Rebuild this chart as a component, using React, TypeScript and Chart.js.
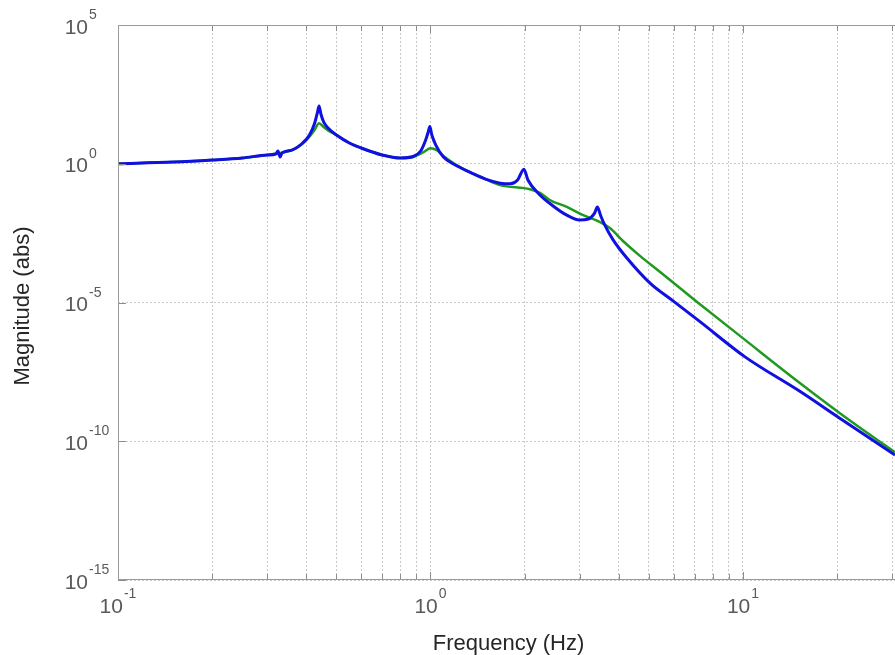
import React, { useEffect, useRef } from "react";
import { Chart, registerables } from "chart.js";

Chart.register(...registerables);

// ---- Data ----
const frequencyBlue = [
  0.1, 0.15, 0.2, 0.25, 0.3, 0.32, 0.325, 0.33, 0.335, 0.36, 0.39, 0.41, 0.425, 0.435, 0.44, 0.446, 0.455, 0.47,
  0.5, 0.55, 0.6, 0.7, 0.8, 0.88, 0.93, 0.965, 0.985, 0.995, 1.01, 1.04, 1.1, 1.2, 1.35, 1.5, 1.67, 1.8, 1.9,
  1.99, 2.05, 2.24, 2.45, 2.73, 3.0, 3.2, 3.35, 3.42, 3.5, 3.6, 3.84, 4.25, 5.04, 6.0, 7.3, 10.15, 15.2, 20.4, 30.65,
];
const magnitudeBlue = [
  1.0, 1.15, 1.36, 1.61, 2.07, 2.24, 2.88, 1.75, 2.45, 3.1, 5.6, 10.9, 27, 73, 120, 62, 32, 19.4,
  10.9, 5.6, 3.7, 2.07, 1.61, 1.82, 2.88, 7.2, 15, 22, 10.9, 4.7, 1.75, 0.9, 0.47, 0.28, 0.2, 0.19, 0.26,
  0.64, 0.26, 0.075, 0.032, 0.014, 0.0094, 0.0102, 0.0167, 0.0275, 0.014, 0.0067, 0.0018, 4e-4, 5e-5, 1.1e-5, 2e-6,
  1.1e-7, 6.3e-9, 6.8e-10, 3.2e-11,
];
const frequencyGreen = [
  0.1, 0.15, 0.2, 0.25, 0.3, 0.36, 0.39, 0.41, 0.425, 0.44, 0.455, 0.47, 0.5, 0.55, 0.6, 0.7, 0.8, 0.88, 0.95,
  1.0, 1.05, 1.1, 1.2, 1.35, 1.5, 1.67, 2.08, 2.24, 2.41, 2.73, 3.08, 3.49, 3.75, 4.13, 4.68, 5.43, 7.13, 10.15,
  15.2, 22.5, 30.65,
];
const magnitudeGreen = [
  1.0, 1.15, 1.36, 1.61, 2.07, 3.1, 5.4, 9.5, 16, 29, 21, 16, 10.9, 5.6, 3.7, 2.07, 1.61, 1.75, 2.6,
  3.6, 3.0, 1.9, 0.95, 0.47, 0.28, 0.17, 0.12, 0.089, 0.049, 0.028, 0.014, 0.0079, 0.0048, 0.00165, 4.8e-4, 1.26e-4,
  1.05e-5, 4.5e-7, 1.26e-8, 4.6e-10, 4e-11,
];

const xMin = 0.1;
const xMax = 30.65;
const yMin = 1e-15;
const yMax = 1e5;

const xGridValues = [
  0.1, 0.2, 0.3, 0.4, 0.5, 0.6, 0.7, 0.8, 0.9, 1, 2, 3, 4, 5, 6, 7, 8, 9, 10, 20, 30,
];
const xLabelValues = [0.1, 1, 10];
const xLabelExponents = ["-1", "0", "1"];
const yLabelValues = [1e-15, 1e-10, 1e-5, 1, 1e5];
const yLabelExponents = ["-15", "-10", "-5", "0", "5"];
const xTitle = "Frequency (Hz)";
const yTitle = "Magnitude (abs)";

const FONT = "'Liberation Sans', Arial, Helvetica, sans-serif";

const decorPlugin = {
  id: "decor",
  afterDraw(chart: any) {
    const { ctx, chartArea: a, scales } = chart;
    const xs = scales.x;
    const ys = scales.y;
    ctx.save();

    // inward tick marks
    ctx.strokeStyle = "#8c8c8c";
    ctx.lineWidth = 1;
    ctx.beginPath();
    for (const v of xGridValues) {
      if (v < xMin || v > xMax) continue;
      const px = Math.round(xs.getPixelForValue(v)) + 0.5;
      const len = xLabelValues.includes(v) ? 8 : 6;
      ctx.moveTo(px, a.bottom);
      ctx.lineTo(px, a.bottom - len);
      ctx.moveTo(px, a.top);
      ctx.lineTo(px, a.top + len);
    }
    for (const v of yLabelValues) {
      const py = Math.round(ys.getPixelForValue(v)) + 0.5;
      ctx.moveTo(a.left, py);
      ctx.lineTo(a.left + 8, py);
    }
    ctx.stroke();

    // axes box (left, top, bottom)
    ctx.strokeStyle = "#9a9a9a";
    ctx.beginPath();
    ctx.moveTo(a.right + 1, Math.round(a.top) + 0.5);
    ctx.lineTo(Math.round(a.left) + 0.5, Math.round(a.top) + 0.5);
    ctx.lineTo(Math.round(a.left) + 0.5, Math.round(a.bottom) - 0.5);
    ctx.lineTo(a.right + 1, Math.round(a.bottom) - 0.5);
    ctx.stroke();

    // tick labels
    ctx.fillStyle = "#5a5a5a";
    ctx.textBaseline = "alphabetic";
    xLabelValues.forEach((v, i) => {
      const px = xs.getPixelForValue(v);
      ctx.font = `21px ${FONT}`;
      const wBase = ctx.measureText("10").width;
      ctx.font = `14px ${FONT}`;
      const wExp = ctx.measureText(xLabelExponents[i]).width;
      const start = px - (wBase + wExp + 1) / 2;
      ctx.font = `21px ${FONT}`;
      ctx.textAlign = "left";
      ctx.fillText("10", start, 613);
      ctx.font = `14px ${FONT}`;
      ctx.fillText(xLabelExponents[i], start + wBase + 1, 598);
    });
    yLabelValues.forEach((v, i) => {
      const py = ys.getPixelForValue(v);
      ctx.font = `21px ${FONT}`;
      ctx.textAlign = "right";
      ctx.fillText("10", 88, py + 8.5);
      ctx.font = `14px ${FONT}`;
      ctx.textAlign = "left";
      ctx.fillText(yLabelExponents[i], 89, py - 6);
    });

    // axis titles
    ctx.fillStyle = "#262626";
    ctx.font = `22px ${FONT}`;
    ctx.textAlign = "center";
    ctx.fillText(xTitle, (a.left + a.right) / 2 + 2, 650);
    ctx.save();
    ctx.translate(23, 306);
    ctx.rotate(-Math.PI / 2);
    ctx.textBaseline = "middle";
    ctx.fillText(yTitle, 0, 0);
    ctx.restore();

    ctx.restore();
  },
};

export default function App() {
  const canvasRef = useRef<HTMLCanvasElement | null>(null);

  useEffect(() => {
    const canvas = canvasRef.current;
    if (!canvas) return;
    const blueData = frequencyBlue.map((f, i) => ({ x: f, y: magnitudeBlue[i] }));
    const greenData = frequencyGreen.map((f, i) => ({ x: f, y: magnitudeGreen[i] }));

    const chart = new Chart(canvas, {
      type: "line",
      data: {
        datasets: [
          {
            label: "blue",
            data: blueData,
            borderColor: "#1010e0",
            borderWidth: 3,
            pointRadius: 0,
            cubicInterpolationMode: "monotone",
            fill: false,
          },
          {
            label: "green",
            data: greenData,
            borderColor: "#1f9a1f",
            borderWidth: 2.5,
            pointRadius: 0,
            cubicInterpolationMode: "monotone",
            fill: false,
          },
        ],
      },
      options: {
        responsive: false,
        animation: false,
        events: [],
        devicePixelRatio: 1,
        layout: { padding: { left: 118, top: 25, right: 0, bottom: 75 } },
        plugins: {
          legend: { display: false },
          tooltip: { enabled: false },
          title: { display: false },
        },
        scales: {
          x: {
            type: "logarithmic",
            min: xMin,
            max: xMax,
            afterBuildTicks: (scale: any) => {
              scale.ticks = xGridValues.filter((v) => v >= xMin && v <= xMax).map((v) => ({ value: v }));
            },
            ticks: { display: false },
            grid: { color: "#c9c9c9", lineWidth: 1, drawTicks: false },
            border: { display: false, dash: [2, 2] },
          },
          y: {
            type: "logarithmic",
            min: yMin,
            max: yMax,
            afterBuildTicks: (scale: any) => {
              scale.ticks = yLabelValues.map((v) => ({ value: v }));
            },
            ticks: { display: false },
            grid: { color: "#c9c9c9", lineWidth: 1, drawTicks: false },
            border: { display: false, dash: [2, 2] },
          },
        },
      },
      plugins: [decorPlugin],
    });

    return () => {
      chart.destroy();
    };
  }, []);

  return (
    <div style={{ position: "absolute", left: 0, top: 0, width: 895, height: 655, background: "#ffffff" }}>
      <canvas ref={canvasRef} width={895} height={655} style={{ display: "block" }} />
    </div>
  );
}
